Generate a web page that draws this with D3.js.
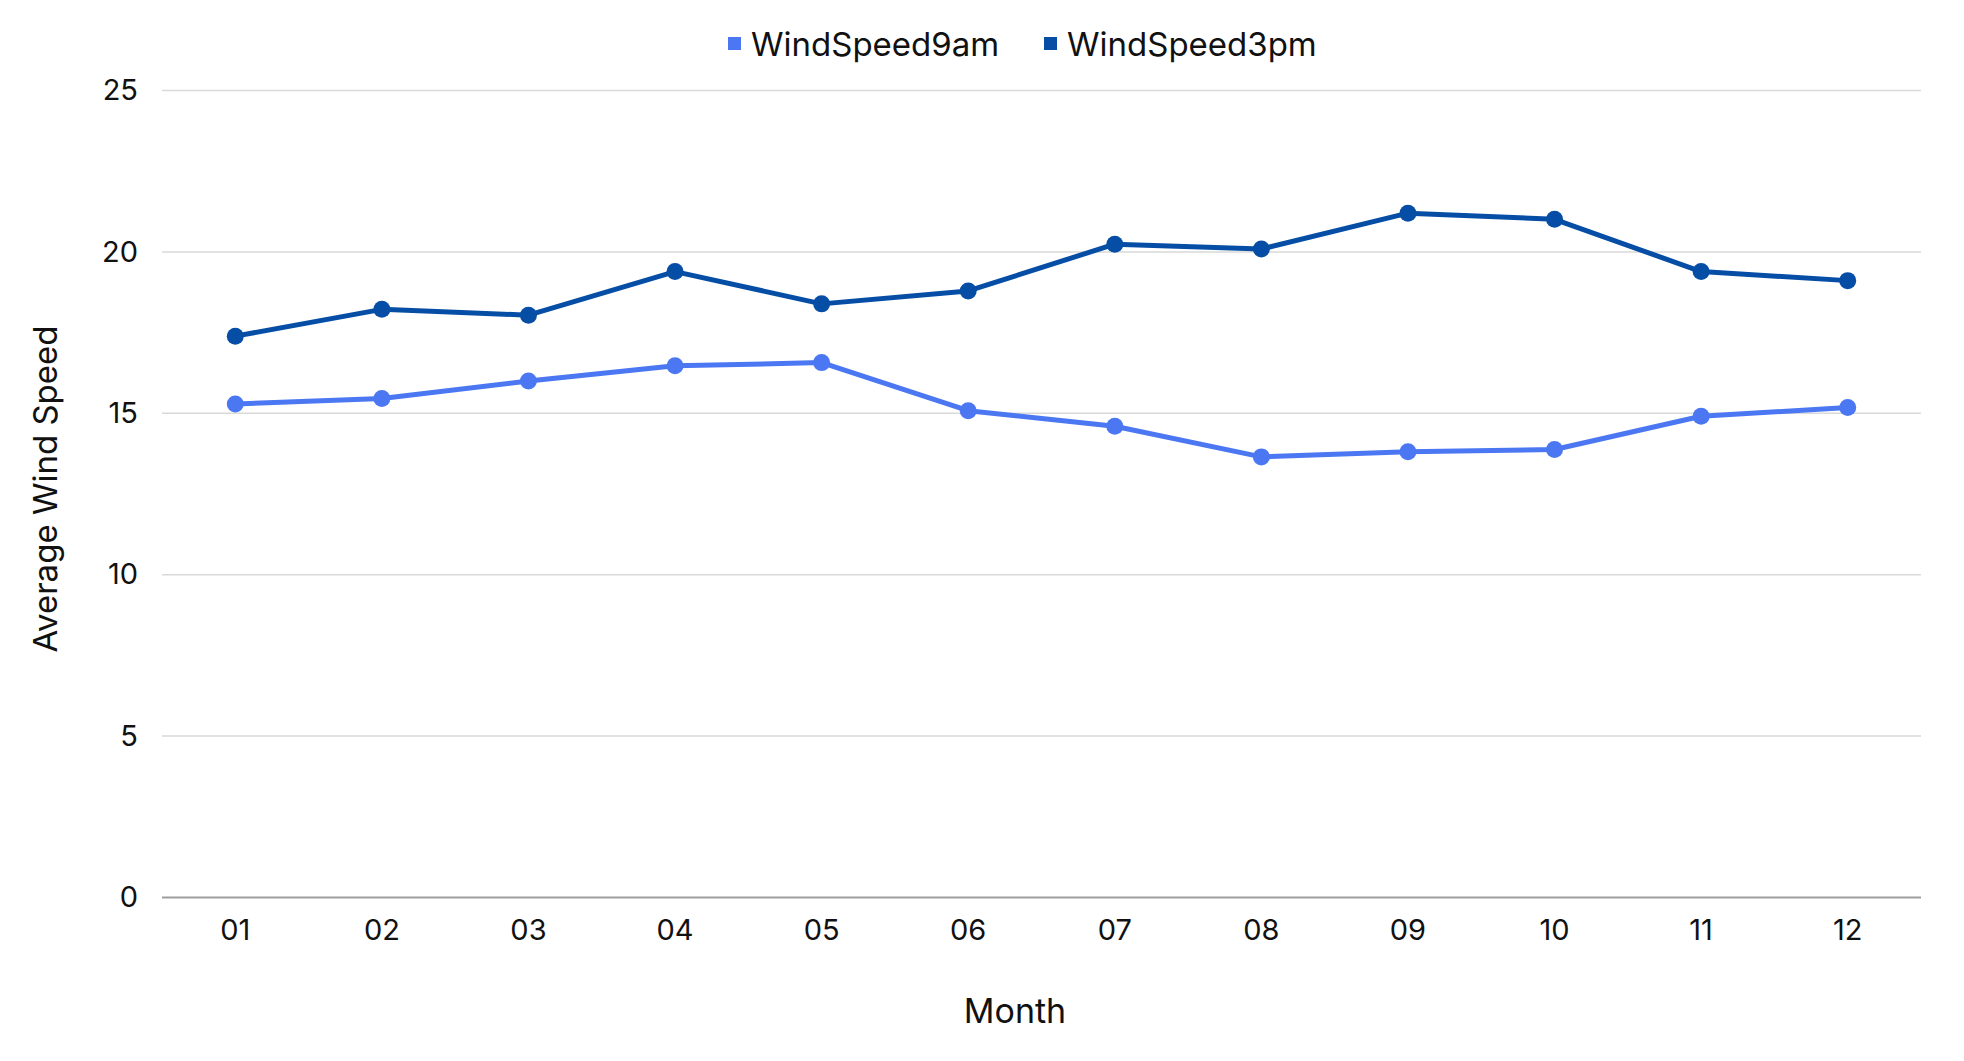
<!DOCTYPE html>
<html><head><meta charset="utf-8">
<script src="https://cdn.jsdelivr.net/npm/d3@7"></script>
<style>
html,body{margin:0;padding:0;background:#fff;}
text{font-family:"Inter","Lato",sans-serif;fill:#111;}
</style></head>
<body><svg id="c" width="1964" height="1061"></svg>
<script>
const months = ["01","02","03","04","05","06","07","08","09","10","11","12"];
const windSpeed9am = [15.29,15.46,16.0,16.47,16.57,15.08,14.6,13.65,13.81,13.88,14.91,15.18];
const windSpeed3pm = [17.39,18.22,18.04,19.39,18.39,18.79,20.24,20.09,21.2,21.01,19.39,19.11];
const yTicks = [0,5,10,15,20,25];
const seriesNames = ["WindSpeed9am","WindSpeed3pm"];
const seriesColors = ["#4b78f2","#064ea5"];

const svg = d3.select("#c");
const x = d3.scaleBand().domain(months).range([162,1921]);
const y = d3.scaleLinear().domain([0,25]).range([897.5,90.5]);

// gridlines
svg.append("g").selectAll("line").data(yTicks.filter(d=>d>0)).join("line")
  .attr("x1",162).attr("x2",1921).attr("y1",d=>y(d)).attr("y2",d=>y(d))
  .attr("stroke","#d9d9d9").attr("stroke-width",1.5);
svg.append("line").attr("x1",162).attr("x2",1921).attr("y1",y(0)).attr("y2",y(0))
  .attr("stroke","#9e9e9e").attr("stroke-width",2);

// y axis labels
const yAxis = d3.axisLeft(y).tickValues(yTicks).tickSize(0).tickPadding(0);
const gy = svg.append("g").attr("transform","translate(138,0)").call(yAxis);
gy.select(".domain").remove();
gy.selectAll("text").attr("font-size",29).attr("font-family","Inter,Lato,sans-serif").attr("fill","#111");

// x axis labels
const xAxis = d3.axisBottom(x).tickSize(0).tickPadding(0);
const gx = svg.append("g").attr("transform","translate(0,919)").call(xAxis);
gx.select(".domain").remove();
gx.selectAll("text").attr("font-size",29).attr("font-family","Inter,Lato,sans-serif").attr("fill","#111");

// axis titles
svg.append("text").attr("x",1015).attr("y",1023).attr("text-anchor","middle")
  .attr("font-size",34).text("Month");
svg.append("text").attr("transform","translate(57,489) rotate(-90)").attr("text-anchor","middle")
  .attr("font-size",33).text("Average Wind Speed");

// lines
const cx = d => x(d) + x.bandwidth()/2;
[windSpeed9am, windSpeed3pm].forEach((vals,i)=>{
  const pts = months.map((m,j)=>({m, v: vals[j]}));
  svg.append("path").datum(pts)
    .attr("d", d3.line().x(d=>cx(d.m)).y(d=>y(d.v)))
    .attr("fill","none").attr("stroke",seriesColors[i]).attr("stroke-width",5)
    .attr("stroke-linejoin","round");
  svg.append("g").selectAll("circle").data(pts).join("circle")
    .attr("cx",d=>cx(d.m)).attr("cy",d=>y(d.v)).attr("r",8.5).attr("fill",seriesColors[i]);
});

// legend
const legendX = [728, 1044];
seriesNames.forEach((n,i)=>{
  const g = svg.append("g").attr("transform",`translate(${legendX[i]},44)`);
  g.append("rect").attr("x",0).attr("y",-7).attr("width",13).attr("height",13).attr("fill",seriesColors[i]);
  g.append("text").attr("x",23).attr("y",0).attr("dy","0.35em").attr("font-size",33).text(n);
});
</script></body></html>
